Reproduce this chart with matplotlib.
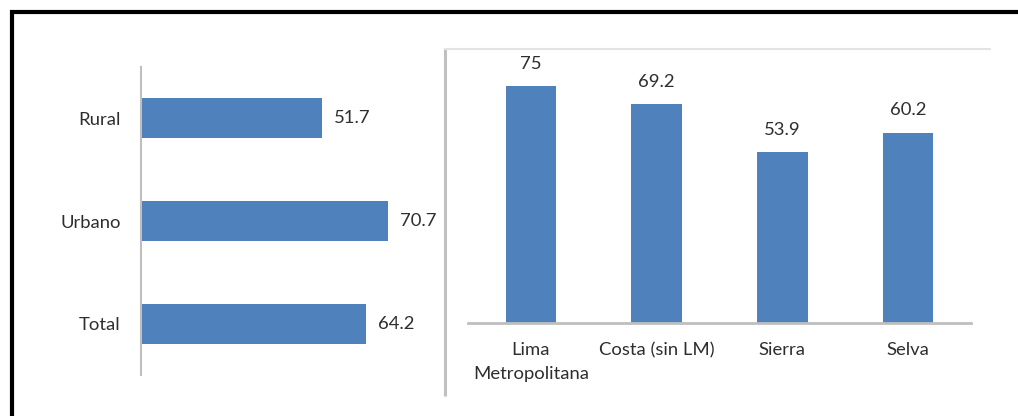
import matplotlib.pyplot as plt
from matplotlib.lines import Line2D

plt.rcParams['font.family'] = ['Lato', 'DejaVu Sans']

# datos
zona = ['Total', 'Urbano', 'Rural']
zona_val = [64.2, 70.7, 51.7]
region = ['Lima\nMetropolitana', 'Costa (sin LM)', 'Sierra', 'Selva']
region_val = [75, 69.2, 53.9, 60.2]

W, H = 1018, 416
azul = '#4F81BD'
gris = '#BFBFBF'
texto = '#2E2E2E'
fs = 13.3

fig = plt.figure(figsize=(W / 100, H / 100), dpi=100)

def px(x0, y0, x1, y1):
    # caja en pixeles (origen arriba-izquierda) -> coords de figura
    return [x0 / W, 1 - y1 / H, (x1 - x0) / W, (y1 - y0) / H]

# panel izquierdo: barras horizontales
ax1 = fig.add_axes(px(141, 67, 421, 375))
yy = range(len(zona))
ax1.barh(yy, zona_val, height=0.39, color=azul)
ax1.set_xlim(0, 80)
ax1.set_ylim(-0.5, 2.5)
ax1.set_yticks(list(yy))
ax1.set_yticklabels(zona, fontsize=fs, color=texto)
ax1.tick_params(axis='y', length=0, pad=14.5)
ax1.set_xticks([])
for s in ['top', 'right', 'bottom']:
    ax1.spines[s].set_visible(False)
ax1.spines['left'].set_color(gris)
ax1.spines['left'].set_linewidth(1.5)
for i, v in enumerate(zona_val):
    ax1.annotate(f'{v}', (v, i), xytext=(8.5, 0), textcoords='offset points',
                 ha='left', va='center', fontsize=fs, color=texto)

# panel derecho: columnas
ax2 = fig.add_axes(px(468, 48, 971, 322.5))
xx = range(len(region))
ax2.bar(xx, region_val, width=0.4, color=azul)
ax2.set_xlim(-0.5, 3.5)
ax2.set_ylim(0, 87)
ax2.set_xticks(list(xx))
ax2.set_xticklabels(region, fontsize=fs, color=texto, linespacing=1.65)
ax2.tick_params(axis='x', length=0, pad=14)
ax2.set_yticks([])
for s in ['top', 'right', 'left']:
    ax2.spines[s].set_visible(False)
ax2.spines['bottom'].set_color(gris)
ax2.spines['bottom'].set_linewidth(2)
for i, v in enumerate(region_val):
    ax2.annotate(f'{v}', (i, v), xytext=(0, 16), textcoords='offset points',
                 ha='center', va='center', fontsize=fs, color=texto)

# lineas de marco
def linea(x0, y0, x1, y1, c, lw):
    fig.add_artist(Line2D([x0 / W, x1 / W], [1 - y0 / H, 1 - y1 / H],
                          color=c, linewidth=lw, transform=fig.transFigure,
                          solid_capstyle='butt'))

linea(445, 48, 445, 396, '#C0C0C0', 2.2)
linea(444, 48.5, 991, 48.5, '#E3E3E3', 1.5)
linea(12, 10, 12, H, 'black', 3)
linea(10, 12, W, 12, 'black', 3)

fig.savefig('out.png', dpi=100, facecolor='white')
